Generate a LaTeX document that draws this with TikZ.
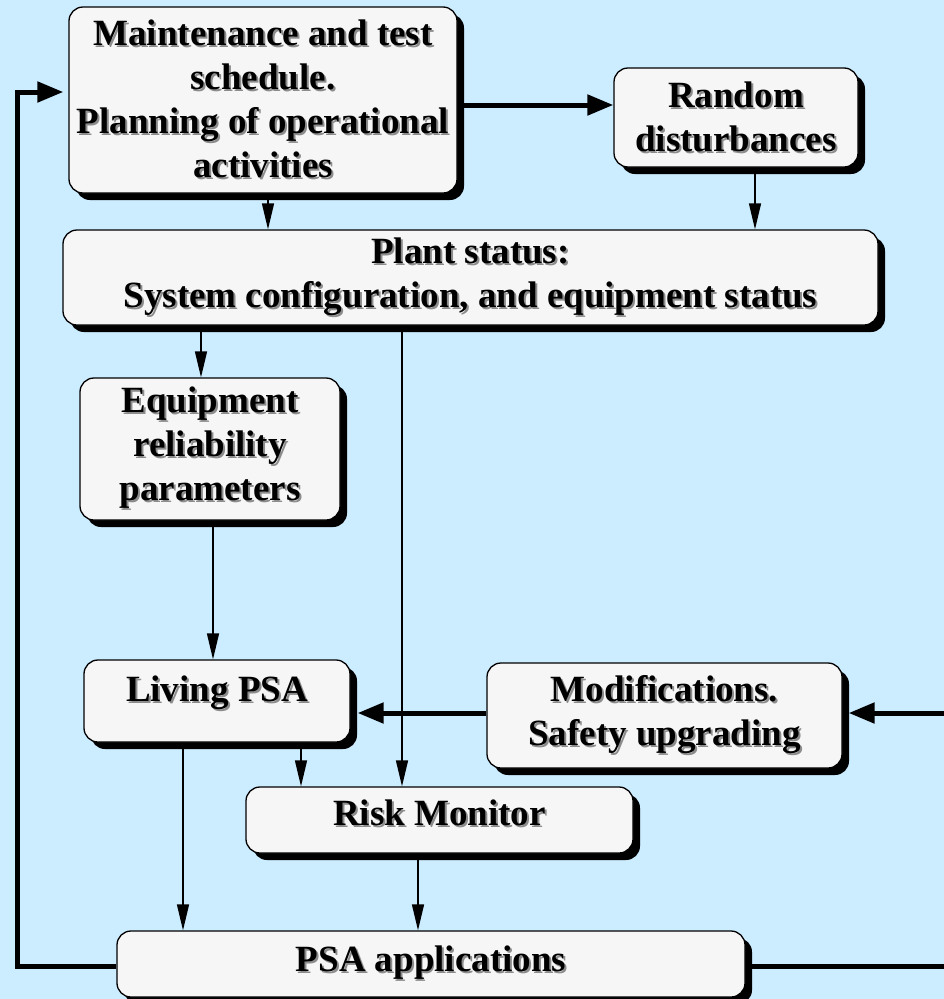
\documentclass[tikz,border=0pt]{standalone}
\usepackage{fontspec}
\setmainfont{Liberation Serif}
\usetikzlibrary{arrows.meta, shadows}
\definecolor{skyback}{HTML}{CCECFF}
\definecolor{boxfill}{HTML}{F6F6F6}
% bold text with a grey shadow behind it
\newcommand\shd[1]{\rlap{\hspace{2pt}\raisebox{-2pt}{\color{black!45}#1}}#1}

\begin{document}
\begin{tikzpicture}[x=1pt,y=-1pt,
  font=\bfseries\fontsize{37}{44}\selectfont,
  blk/.style={draw,line width=1.3pt,rounded corners=14pt,fill=boxfill,align=center,inner sep=0pt,
    drop shadow={shadow xshift=7pt,shadow yshift=-7pt,fill=black,opacity=1}},
  thinarr/.style={line width=1.4pt,-{Triangle[length=26pt,width=12pt]}},
  thickarr/.style={line width=5pt,-{Triangle[length=26pt,width=20pt]}}]
  \useasboundingbox[fill=skyback] (0,0) rectangle (944,999);
  \node[blk,minimum width=388pt,minimum height=186pt](maint) at (263,100){\shd{Maintenance and test}\\ \shd{schedule.}\\ \shd{Planning of operational}\\ \shd{activities}};
  \node[blk,minimum width=244pt,minimum height=99pt](rand) at (736,117.5){\shd{Random}\\ \shd{disturbances}};
  \node[blk,minimum width=815pt,minimum height=95pt](plant) at (470.5,277.5){\shd{Plant status:}\\ \shd{System configuration, and equipment status}};
  \node[blk,minimum width=260pt,minimum height=142pt](equip) at (210,449){\shd{Equipment}\\ \shd{reliability}\\ \shd{parameters}};
  \node[blk,minimum width=266pt,minimum height=82pt,text depth=25pt](living) at (217,701){\shd{Living PSA}};
  \node[blk,minimum width=355pt,minimum height=105pt](mod) at (664.5,715.5){\shd{Modifications.}\\ \shd{Safety upgrading}};
  \node[blk,minimum width=387pt,minimum height=66pt,text depth=14pt](risk) at (439.5,820){\shd{Risk Monitor}};
  \node[blk,minimum width=628pt,minimum height=66pt,text depth=11pt](psa) at (431,964){\shd{PSA applications}};
  % thin flows
  \draw[thinarr](maint.south -| 268,0)--(plant.north -| 268,0);
  \draw[thinarr](rand.south -| 755,0)--(plant.north -| 755,0);
  \draw[thinarr](plant.south -| 201,0)--(equip.north -| 201,0);
  \draw[thinarr](plant.south -| 402,0)--(risk.north -| 402,0);
  \draw[thinarr](equip.south -| 213,0)--(living.north -| 213,0);
  \draw[thinarr](living.south -| 301,0)--(risk.north -| 301,0);
  \draw[thinarr](living.south -| 183,0)--(psa.north -| 183,0);
  \draw[thinarr](risk.south -| 418,0)--(psa.north -| 418,0);
  % thick flows
  \draw[thickarr](maint.east |- 0,105)--(rand.west |- 0,105);
  \draw[thickarr](mod.west |- 0,713)--([xshift=7pt]living.east |- 0,713);
  \draw[thickarr](psa.west |- 0,966)-|(17,92)--([xshift=-5pt]maint.west |- 0,92);
  \draw[thickarr](psa.east |- 0,966)-|(960,713)--([xshift=6pt]mod.east |- 0,713);
\end{tikzpicture}
\end{document}
